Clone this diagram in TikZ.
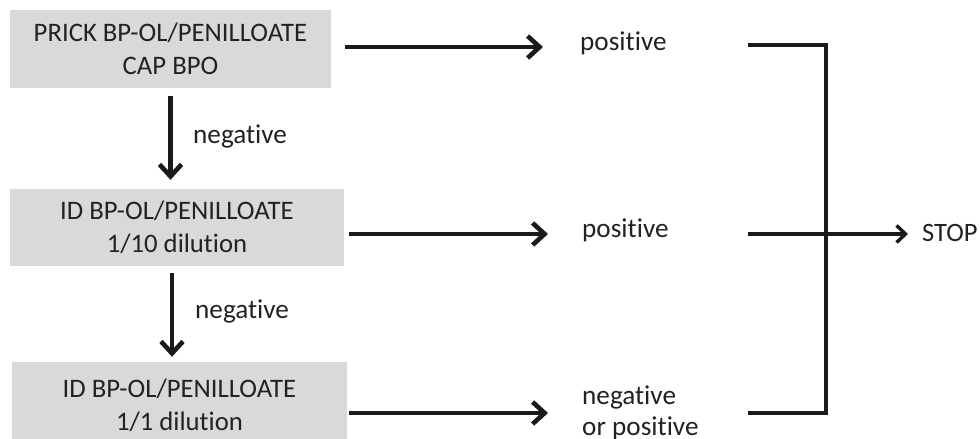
\documentclass[tikz,border=0pt]{standalone}
\usepackage{fontspec}
\setmainfont[Ligatures=CommonOff]{Carlito}
\usetikzlibrary{arrows.meta}
\definecolor{boxgray}{HTML}{D9D9D9}
\definecolor{txt}{HTML}{222222}
\definecolor{ink}{HTML}{1A1A1A}
\begin{document}
\begin{tikzpicture}[x=1pt,y=-1pt,
  stepbox/.style={fill=boxgray, text=txt, align=center, inner sep=0pt,
    font=\fontsize{26.7}{33}\selectfont},
  lbl/.style={text=txt, inner sep=0pt, anchor=base west, align=left,
    font=\fontsize{27.2}{31}\selectfont},
  flow/.style={draw=ink, line width=4.6pt, -{Straight Barb[length=12pt,width=22pt]}},
  brk/.style={draw=ink, line width=3.4pt},
  stoparrow/.style={draw=ink, line width=3.4pt, -{Straight Barb[length=9pt,width=17pt]}},
]
\useasboundingbox[fill=white] (0,0) rectangle (980,439);

% boxes
\node[stepbox, minimum width=321pt, minimum height=78pt] (b1) at (170.5,48.5)
  {PRICK BP-OL/PENILLOATE\\CAP BPO};
\node[stepbox, minimum width=334pt, minimum height=77pt] (b2) at (177,227.5)
  {ID BP-OL/PENILLOATE\\1/10 dilution};
\node[stepbox, minimum width=335pt, minimum height=87pt] (b3) at (179.5,405.5)
  {ID BP-OL/PENILLOATE\\1/1 dilution};

% vertical labels
\node[lbl] (n1) at (193,143) {negative};
\node[lbl] (n2) at (195,318) {negative};

% result labels
\node[lbl] (p1) at (580,50) {positive};
\node[lbl] (p2) at (582,237) {positive};
\node[lbl] (p3) at (582,435) {negative\\or positive};
\node[text=txt, inner sep=0pt, anchor=base west, font=\fontsize{26.5}{31}\selectfont]
  (stop) at (922,241) {STOP};

% vertical arrows
\draw[flow] ([yshift=-8pt]b1.south) -- ([yshift=9pt]b1.south |- b2.north);
\draw[flow] ([xshift=-5pt,yshift=-7pt]b2.south) -- ([xshift=-7.5pt,yshift=5pt]b3.north);

% horizontal arrows
\draw[flow] ([xshift=14pt,yshift=1.5pt]b1.east) -- ([xshift=-37pt,yshift=3pt]p1.base west);
\draw[flow] ([xshift=5pt,yshift=-6.5pt]b2.east) -- ([xshift=-34pt,yshift=3pt]p2.base west);
\draw[flow] ([xshift=2pt,yshift=-7.5pt]b3.east) -- ([xshift=-34pt,yshift=22pt]p3.base west);

% bracket
\coordinate (t1) at (748,45);
\coordinate (t2) at (748,234);
\coordinate (t3) at (748,413);
\coordinate (k) at (826,234);
\draw[brk] (t1) -- (t1 -| k) -- (t3 -| k) -- (t3);
\draw[stoparrow] (t2) -- ([xshift=-14pt,yshift=7pt]stop.base west);
\end{tikzpicture}
\end{document}
